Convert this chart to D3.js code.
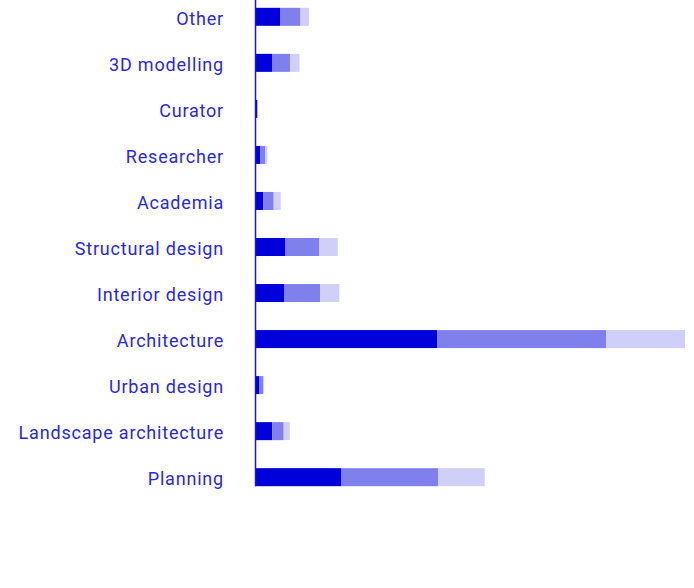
<!DOCTYPE html>
<html><head><meta charset="utf-8">
<script src="https://cdn.jsdelivr.net/npm/d3@7"></script>
<style>body{margin:0;background:#fff}svg{display:block}</style>
</head><body><svg id="c" width="694" height="588"></svg>
<script>
const categories = ["Other","3D modelling","Curator","Researcher","Academia","Structural design","Interior design","Architecture","Urban design","Landscape architecture","Planning"];
const series1 = [25, 17, 2.3, 5, 8.3, 30, 29, 182.3, 4, 17.3, 86];
const series2 = [20.5, 18, 0, 5.3, 10.4, 34.3, 36.3, 169, 4.3, 11.4, 97];
const series3 = [8.5, 9.5, 0, 2, 7, 18.4, 19, 78.7, 0.5, 6, 46.7];
const colors = ["#0000dc", "#8080ec", "#cfcff7"];

const svg = d3.select("#c");
const left = 255, right = 685;
const rows = categories.map((c,i)=>({cat:c, s1:series1[i], s2:series2[i], s3:series3[i]}));
const stack = d3.stack().keys(["s1","s2","s3"])(rows);
const maxV = d3.max(rows, d=>d.s1+d.s2+d.s3);
const x = d3.scaleLinear().domain([0, maxV]).range([left, right]);
const y = d3.scaleBand().domain(categories).range([-6, 500]).paddingInner(0.6087).paddingOuter(0.3);

stack.forEach((layer,k)=>{
  svg.append("g").attr("fill", colors[k]).selectAll("rect").data(layer).join("rect")
    .attr("x", d=>x(d[0])).attr("width", d=>Math.max(0, x(d[1])-x(d[0])))
    .attr("y", d=>y(d.data.cat)).attr("height", y.bandwidth());
});

const axis = d3.axisLeft(y).tickSize(0).tickPadding(31);
const g = svg.append("g").attr("transform", `translate(${left},0)`).call(axis);
g.select(".domain").remove();
g.selectAll("text").attr("font-family","Roboto, 'Noto Sans', sans-serif").attr("font-size", 18)
  .attr("letter-spacing", "0.8px").attr("dy", "0.44em").attr("fill","#2828e2");
svg.append("line").attr("x1", left+0.5).attr("x2", left+0.5).attr("y1", 0).attr("y2", y("Planning")+y.bandwidth())
  .attr("stroke", "#1a1ad6").attr("stroke-width", 1.5);
</script></body></html>
